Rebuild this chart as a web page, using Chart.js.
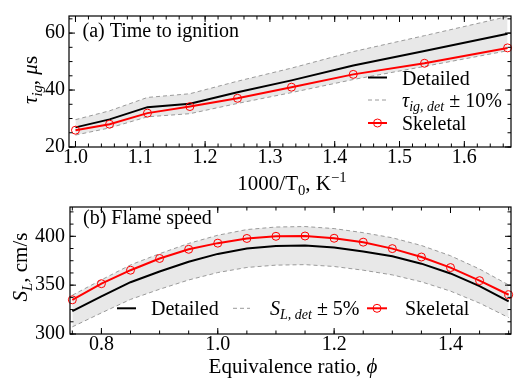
<!DOCTYPE html>
<html>
<head>
<meta charset="utf-8">
<script src="https://cdn.jsdelivr.net/npm/chart.js@4"></script>
<style>
  body { margin: 0; background: #fff; }
  #wrap { position: relative; width: 516px; height: 378px; }
  canvas { position: absolute; left: 0; }
</style>
</head>
<body>
<div id="wrap">
  <canvas id="ign" width="516" height="200" style="top:0"></canvas>
  <canvas id="flame" width="516" height="188" style="top:190px"></canvas>
</div>
<script>
const SERIF = '"Liberation Serif", "Times New Roman", serif';

// (a) ignition delay, x = 1000/T0
const ignX = [1.0, 1.0526, 1.1111, 1.1765, 1.25, 1.3333, 1.4286, 1.5385, 1.6667];
const ignDetailed = [26.9, 29.7, 34.0, 35.2, 39.2, 43.4, 48.6, 53.7, 59.8];
const ignUpper = [29.6, 32.7, 37.4, 38.7, 43.1, 47.7, 53.5, 59.1, 65.8];
const ignLower = [24.2, 26.7, 30.6, 31.7, 35.3, 39.1, 43.7, 48.3, 53.8];
const ignSkeletal = [25.9, 28.0, 31.9, 34.2, 37.1, 41.0, 45.5, 49.4, 54.8];
const ignXTicks = [1.0, 1.1, 1.2, 1.3, 1.4, 1.5, 1.6];
const ignYTicks = [20, 40, 60];

// (b) flame speed, x = equivalence ratio
const phi = [0.75, 0.8, 0.85, 0.9, 0.95, 1.0, 1.05, 1.1, 1.15, 1.2, 1.25, 1.3, 1.35, 1.4, 1.45, 1.5];
const slDetailed = [323.5, 338.5, 353, 364, 374, 382, 387.5, 390, 390.5, 388.5, 384.5, 379.5, 372, 362, 349, 333.5];
const slUpper = [339.7, 355.4, 370.7, 382.2, 392.7, 401.1, 406.9, 409.5, 410.0, 407.9, 403.7, 398.5, 390.6, 380.1, 366.5, 350.2];
const slLower = [307.3, 321.6, 335.4, 345.8, 355.3, 362.9, 368.1, 370.5, 371.0, 369.1, 365.3, 360.5, 353.4, 343.9, 331.6, 316.8];
const slSkeletal = [335, 351.5, 365.3, 377.3, 386.7, 393, 397.8, 400, 400.3, 398, 394, 387.4, 378.8, 368, 354.6, 340.2];
const slXTicks = [0.8, 1.0, 1.2, 1.4];
const slYTicks = [300, 350, 400];

const pts = (xs, ys) => xs.map((x, i) => ({ x, y: ys[i] }));

function steps(from, to, step) {
  const out = [];
  for (let v = from; v <= to + 1e-9; v += step) out.push(+v.toFixed(4));
  return out;
}

// parts: [text, style]  style: i = italic, b = subscript, p = superscript
function drawRich(ctx, parts, x, y, size, align) {
  const runs = parts.map(([t, s = '']) => {
    const sz = /[bp]/.test(s) ? size * 0.7 : size;
    const dy = s.includes('b') ? size * 0.22 : s.includes('p') ? -size * 0.4 : 0;
    const font = (s.includes('i') ? 'italic ' : '') + sz + 'px ' + SERIF;
    ctx.font = font;
    return { t, font, dy, w: ctx.measureText(t).width };
  });
  const total = runs.reduce((a, r) => a + r.w, 0);
  let cx = align === 'center' ? x - total / 2 : x;
  ctx.textAlign = 'left';
  ctx.textBaseline = 'alphabetic';
  ctx.fillStyle = '#000';
  runs.forEach(r => { ctx.font = r.font; ctx.fillText(r.t, cx, y + r.dy); cx += r.w; });
}

function drawRichV(ctx, parts, x, y, size) {
  ctx.save();
  ctx.translate(x, y);
  ctx.rotate(-Math.PI / 2);
  drawRich(ctx, parts, 0, 0, size, 'center');
  ctx.restore();
}

function handle(ctx, x0, x1, y, kind) {
  ctx.save();
  ctx.beginPath();
  ctx.moveTo(x0, y);
  ctx.lineTo(x1, y);
  if (kind === 'det') { ctx.strokeStyle = '#000'; ctx.lineWidth = 2; }
  if (kind === 'band') { ctx.strokeStyle = '#9a9a9a'; ctx.lineWidth = 1; ctx.setLineDash([4, 3]); }
  if (kind === 'skel') { ctx.strokeStyle = '#f00'; ctx.lineWidth = 2; }
  ctx.stroke();
  if (kind === 'skel') {
    ctx.lineWidth = 1;
    ctx.beginPath();
    ctx.arc((x0 + x1) / 2, y, 4, 0, 2 * Math.PI);
    ctx.stroke();
  }
  ctx.restore();
}

// frame, inward ticks on all sides, and the extra text
function decor(spec) {
  return {
    id: 'decor',
    afterDatasetsDraw(chart) {
      const { ctx, chartArea: a, scales: { x, y } } = chart;
      ctx.save();
      ctx.strokeStyle = '#000';
      ctx.lineWidth = 1;
      ctx.beginPath();
      const xt = (vals, len) => vals.forEach(v => {
        const p = x.getPixelForValue(v);
        ctx.moveTo(p, a.bottom); ctx.lineTo(p, a.bottom - len);
        ctx.moveTo(p, a.top); ctx.lineTo(p, a.top + len);
      });
      const yt = (vals, len) => vals.forEach(v => {
        const p = y.getPixelForValue(v);
        ctx.moveTo(a.left, p); ctx.lineTo(a.left + len, p);
        ctx.moveTo(a.right, p); ctx.lineTo(a.right - len, p);
      });
      xt(spec.xMajor, 6); xt(spec.xMinor, 3.5);
      yt(spec.yMajor, 6); yt(spec.yMinor, 3.5);
      ctx.stroke();
      ctx.lineWidth = 1.2;
      ctx.strokeRect(a.left, a.top, a.right - a.left, a.bottom - a.top);
      ctx.restore();
      ctx.save();
      spec.draw(ctx, chart);
      ctx.restore();
    }
  };
}

function datasets(xs, upper, lower, detailed, skeletal) {
  return [
    { data: pts(xs, upper), borderColor: '#9a9a9a', borderWidth: 1, borderDash: [4, 3], pointRadius: 0,
      fill: '+1', backgroundColor: '#e8e8e8', order: 3 },
    { data: pts(xs, lower), borderColor: '#9a9a9a', borderWidth: 1, borderDash: [4, 3], pointRadius: 0,
      fill: false, order: 3 },
    { data: pts(xs, detailed), borderColor: '#000', borderWidth: 2, pointRadius: 0, fill: false, order: 1 },
    { data: pts(xs, skeletal), borderColor: '#f00', borderWidth: 2, pointRadius: 4, pointBorderWidth: 1,
      pointBorderColor: '#f00', pointBackgroundColor: 'rgba(0,0,0,0)', fill: false, order: 0, clip: false }
  ];
}

function axes(xMin, xMax, xTicks, xDigits, yMin, yMax, yTicks, yWidth, xHeight, yPad) {
  const tickFont = { family: SERIF, size: 20 };
  return {
    x: {
      type: 'linear', min: xMin, max: xMax,
      afterBuildTicks: s => { s.ticks = xTicks.map(v => ({ value: v })); },
      afterFit: s => { s.height = xHeight; },
      ticks: { font: tickFont, color: '#000', padding: -1, maxRotation: 0, autoSkip: false,
        callback: v => v.toFixed(xDigits) },
      grid: { display: false, drawTicks: false },
      border: { display: false }
    },
    y: {
      type: 'linear', min: yMin, max: yMax,
      afterBuildTicks: s => { s.ticks = yTicks.map(v => ({ value: v })); },
      afterFit: s => { s.width = yWidth; },
      ticks: { font: tickFont, color: '#000', padding: yPad, autoSkip: false, callback: v => String(v) },
      grid: { display: false, drawTicks: false },
      border: { display: false }
    }
  };
}

const common = {
  responsive: false,
  animation: false,
  events: [],
  elements: { line: { tension: 0 } },
  plugins: { legend: { display: false }, tooltip: { enabled: false }, filler: { drawTime: 'beforeDatasetsDraw' } }
};

new Chart(document.getElementById('ign'), {
  type: 'line',
  data: { datasets: datasets(ignX, ignUpper, ignLower, ignDetailed, ignSkeletal) },
  options: {
    ...common,
    layout: { padding: { left: 0, right: 1, top: 13, bottom: 0 } },
    scales: axes(0.99, 1.672, ignXTicks, 1, 20, 66, ignYTicks, 69, 53, 4)
  },
  plugins: [decor({
    xMajor: ignXTicks, xMinor: steps(1.0, 1.66, 0.02),
    yMajor: ignYTicks, yMinor: steps(20, 65, 5),
    draw(ctx) {
      drawRich(ctx, [['(a) Time to ignition']], 82.5, 37, 20, 'left');
      handle(ctx, 368, 387, 77.5, 'det');
      drawRich(ctx, [['Detailed']], 402, 84.5, 20, 'left');
      handle(ctx, 368, 387, 100, 'band');
      drawRich(ctx, [['τ', 'i'], ['ig, det', 'ib'], [' ± 10%']], 402, 107, 20, 'left');
      handle(ctx, 368, 387, 123, 'skel');
      drawRich(ctx, [['Skeletal']], 402, 130, 20, 'left');
      drawRich(ctx, [['1000/T'], ['0', 'b'], [', K'], ['−1', 'p']], 292, 190, 21, 'center');
      drawRichV(ctx, [['τ', 'i'], ['ig', 'ib'], [', '], ['μ', 'i'], ['s']], 37, 80, 21);
    }
  })]
});

new Chart(document.getElementById('flame'), {
  type: 'line',
  data: { datasets: datasets(phi, slUpper, slLower, slDetailed, slSkeletal) },
  options: {
    ...common,
    layout: { padding: { left: 0, right: 1, top: 10, bottom: 0 } },
    scales: axes(0.746, 1.504, slXTicks, 1, 300, 430, slYTicks, 70, 44, 5)
  },
  plugins: [decor({
    xMajor: slXTicks, xMinor: steps(0.75, 1.5, 0.05),
    yMajor: slYTicks, yMinor: steps(300, 425, 12.5),
    draw(ctx) {
      drawRich(ctx, [['(b) Flame speed']], 83, 33.5, 20, 'left');
      handle(ctx, 117, 136, 118.3, 'det');
      drawRich(ctx, [['Detailed']], 151, 125, 20, 'left');
      handle(ctx, 233, 250, 118.3, 'band');
      drawRich(ctx, [['S', 'i'], ['L, det', 'ib'], [' ± 5%']], 270, 125, 20, 'left');
      handle(ctx, 367, 387, 118.3, 'skel');
      drawRich(ctx, [['Skeletal']], 405, 125, 20, 'left');
      drawRich(ctx, [['Equivalence ratio, '], ['ϕ', 'i']], 293, 183, 21, 'center');
      drawRichV(ctx, [['S', 'i'], ['L', 'ib'], [', cm/s']], 27, 77, 21);
    }
  })]
});
</script>
</body>
</html>
